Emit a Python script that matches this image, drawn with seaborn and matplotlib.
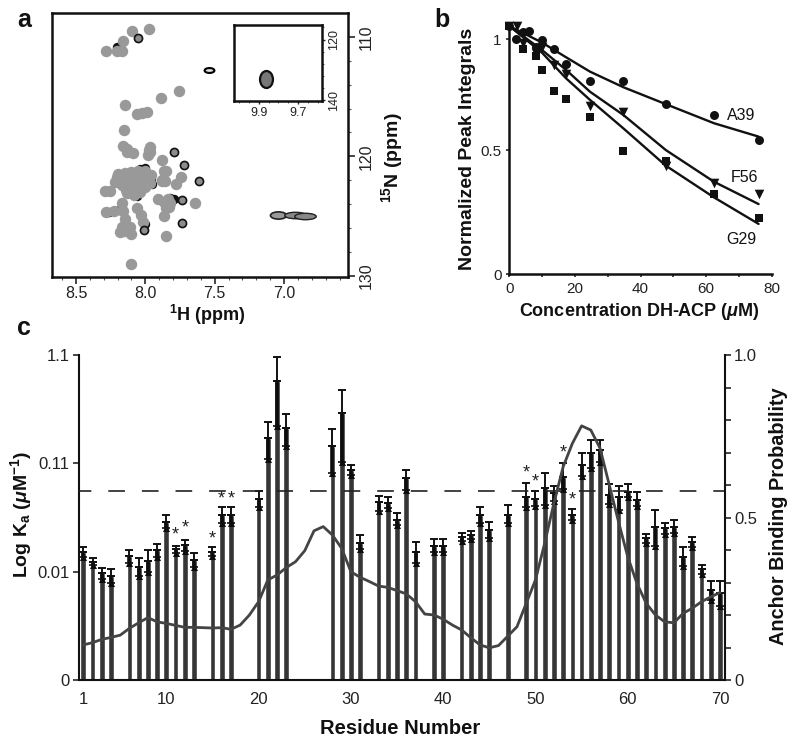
import matplotlib
matplotlib.use("Agg")
import matplotlib.pyplot as plt
import pandas as pd
import seaborn as sns
from matplotlib.path import Path
from matplotlib.transforms import Affine2D

W, H = 800, 745

# panel a, peak positions in ppm
gray_h = [7.971, 8.096, 8.163, 8.286, 8.204, 8.168, 7.760, 7.885, 8.147, 8.060, 8.024, 7.988, 8.151,
          8.132, 8.089, 7.964, 7.983, 7.882, 7.868, 7.880, 7.740, 7.776, 8.204, 8.216, 8.156, 8.096,
          8.036, 7.988, 8.132, 8.084, 8.036, 7.976, 8.180, 8.120, 8.060, 8.288, 8.252, 8.096, 7.911,
          7.868, 7.820, 7.832, 7.639, 8.168, 8.163, 8.281, 8.228, 8.060, 8.029, 8.019, 7.863, 8.144,
          8.108, 8.151, 8.103, 8.180, 7.851, 8.101, 7.850, 7.840,
          8.20, 8.15, 8.10, 8.05, 8.00, 7.96, 8.17, 8.12, 8.07, 8.02, 7.97, 8.14, 8.09, 8.04, 8.00,
          8.13, 8.08, 8.04, 7.88, 7.86, 7.85, 7.84, 8.16, 8.13, 8.17, 7.97, 7.975]
gray_n = [109.30, 109.53, 110.33, 111.17, 111.17, 111.17, 114.54, 115.15, 115.71, 116.46, 116.41, 116.27, 117.80,
          119.42, 119.75, 119.61, 119.89, 120.31, 121.20, 122.06, 121.75, 122.34, 121.70, 122.12, 121.84, 121.70,
          121.42, 121.84, 122.53, 122.81, 122.53, 122.12, 122.12, 122.12, 122.12, 122.87, 122.87, 123.09, 123.57,
          123.79, 123.93, 124.21, 123.93, 123.93, 124.54, 124.62, 124.54, 124.35, 124.90, 125.46, 124.99, 125.24,
          125.88, 126.21, 126.52, 126.30, 126.63, 129.00, 121.20, 123.60,
          121.50, 121.40, 121.30, 121.20, 121.20, 121.60, 122.40, 122.30, 122.30, 122.20, 122.20, 122.80, 122.90,
          122.80, 122.60, 123.10, 123.20, 123.00, 122.00, 122.10, 124.30, 124.00, 119.10, 119.60, 125.90, 119.20, 119.50]
dark_h = [8.053, 7.796, 7.719, 7.615, 7.736, 7.736, 8.012]
dark_n = [110.08, 119.61, 120.75, 122.09, 123.65, 125.54, 126.16]
edge_h = [8.003, 8.036, 7.950, 7.960, 7.820, 7.790, 8.260, 8.190, 8.204, 8.000, 8.060]
edge_n = [120.95, 121.05, 122.35, 121.90, 123.45, 123.55, 124.70, 124.45, 110.85, 125.65, 123.30]
oval_h = [7.543, 7.043, 6.920, 6.850]
oval_n = [112.79, 124.93, 124.93, 124.96]
inset_h = [9.866]
inset_n = [132.8]

# panel b
conc_a39 = [0, 2.0, 4.1, 6.0, 8.0, 10, 13.7, 17.3, 24.6, 34.8, 47.7, 62.4, 76]
a39 = [1.0, 0.946, 0.974, 0.981, 0.917, 0.944, 0.909, 0.845, 0.778, 0.778, 0.685, 0.642, 0.540]
conc_f56 = [0, 2.2, 4.1, 8.0, 10, 13.7, 17.3, 24.6, 34.8, 47.7, 62.4, 76]
f56 = [1.0, 1.0, 0.930, 0.890, 0.917, 0.843, 0.806, 0.677, 0.652, 0.437, 0.368, 0.323]
conc_g29 = [0, 4.1, 8.0, 10, 13.7, 17.3, 24.6, 34.8, 47.7, 62.4, 76]
g29 = [1.0, 0.907, 0.880, 0.821, 0.738, 0.706, 0.632, 0.497, 0.457, 0.321, 0.227]
conc_fit = [0, 10, 17.3, 24.6, 34.8, 47.7, 62.4, 76]
fit_a39 = [1.0, 0.933, 0.874, 0.816, 0.753, 0.685, 0.608, 0.554]
fit_f56 = [1.0, 0.903, 0.823, 0.735, 0.641, 0.500, 0.372, 0.282]
fit_g29 = [1.0, 0.892, 0.789, 0.702, 0.587, 0.437, 0.309, 0.202]

# panel c, heights are in axis positions (0, 0.01, 0.11, 1.1 are evenly spaced)
residues = [1, 2, 3, 4, 6, 7, 8, 9, 10, 11, 12, 13, 15, 16, 17, 20, 21, 22, 23, 28, 29, 30, 31, 33, 34, 35,
            36, 37, 39, 40, 42, 43, 44, 45, 47, 49, 50, 51, 52, 53, 54, 55, 56, 57, 58, 59, 60, 61, 62, 63,
            64, 65, 66, 67, 68, 69, 70]
ka = [1.182, 1.092, 0.985, 0.960, 1.142, 1.046, 1.098, 1.200, 1.462, 1.206, 1.243, 1.111, 1.185, 1.526, 1.526,
      1.671, 2.237, 2.763, 2.329, 2.160, 2.462, 1.938, 1.262, 1.646, 1.637, 1.477,
      1.862, 1.185, 1.237, 1.237, 1.323, 1.338, 1.523, 1.385, 1.523, 1.692, 1.668, 1.769, 1.723, 1.877, 1.523,
      1.985, 2.092, 2.123, 1.708, 1.692, 1.738, 1.662, 1.308, 1.415, 1.400, 1.415, 1.138, 1.277, 1.022, 0.831, 0.800]
ka_hi = [1.225, 1.123, 1.034, 1.022, 1.200, 1.129, 1.197, 1.258, 1.523, 1.240, 1.292, 1.175, 1.225, 1.600, 1.600,
         1.745, 2.378, 2.978, 2.455, 2.320, 2.677, 1.985, 1.338, 1.702, 1.692, 1.538,
         1.938, 1.277, 1.298, 1.302, 1.360, 1.378, 1.600, 1.462, 1.612, 1.818, 1.742, 1.908, 1.794, 2.006, 1.578,
         2.092, 2.215, 2.215, 1.809, 1.791, 1.812, 1.732, 1.351, 1.566, 1.452, 1.477, 1.231, 1.323, 1.062, 0.911, 0.914]
ka_lo = [1.138, 1.062, 0.935, 0.898, 1.083, 0.960, 1.000, 1.138, 1.400, 1.169, 1.194, 1.046, 1.145, 1.452, 1.452,
         1.600, 2.037, 2.345, 2.160, 1.908, 2.015, 1.892, 1.206, 1.563, 1.585, 1.431,
         1.754, 1.077, 1.178, 1.178, 1.283, 1.302, 1.446, 1.314, 1.446, 1.594, 1.609, 1.615, 1.652, 1.763, 1.477,
         1.883, 1.960, 2.009, 1.625, 1.569, 1.692, 1.606, 1.268, 1.240, 1.345, 1.360, 1.055, 1.231, 0.978, 0.738, 0.686]
star_res = [11, 12, 15, 16, 17, 49, 50, 53, 54]
star_y = [1.338, 1.400, 1.302, 1.668, 1.668, 1.908, 1.831, 2.098, 1.662]
threshold = 1.745
anchor_res = list(range(1, 71))
anchor = [0.108, 0.115, 0.125, 0.131, 0.138, 0.159, 0.176, 0.192, 0.179, 0.174, 0.168, 0.162, 0.162, 0.161,
          0.160, 0.161, 0.156, 0.169, 0.200, 0.241, 0.308, 0.323, 0.346, 0.364, 0.398, 0.459, 0.472, 0.446,
          0.405, 0.333, 0.316, 0.303, 0.289, 0.285, 0.275, 0.265, 0.241, 0.203, 0.200, 0.187, 0.169, 0.154,
          0.130, 0.108, 0.099, 0.106, 0.135, 0.164, 0.236, 0.308, 0.421, 0.544, 0.656, 0.728, 0.782, 0.769,
          0.713, 0.600, 0.487, 0.379, 0.297, 0.236, 0.200, 0.179, 0.176, 0.205, 0.221, 0.241, 0.256, 0.269]

sns.set_theme(style="ticks")
plt.rcParams["font.family"] = ["Liberation Sans", "DejaVu Sans"]
plt.rcParams["mathtext.fontset"] = "custom"
plt.rcParams["mathtext.rm"] = "Liberation Sans:bold"
plt.rcParams["mathtext.bf"] = "Liberation Sans:bold"
plt.rcParams["mathtext.it"] = "Liberation Sans:italic:bold"
plt.rcParams["lines.scale_dashes"] = False
plt.rcParams["text.color"] = "#1a1a1a"


def box(left, top, right, bottom):
    return [left / W, 1 - bottom / H, (right - left) / W, (bottom - top) / H]


def label(x, y, text, size=14, rotation=0, weight="bold"):
    fig.text(x / W, 1 - y / H, text, fontsize=size, rotation=rotation, weight=weight,
             ha="center", va="center", color="#111111")


def oval(sx, sy):
    return Path.unit_circle().transformed(Affine2D().scale(sx, sy))


fig = plt.figure(figsize=(W / 100, H / 100), dpi=100)

# a
ax = fig.add_axes(box(52, 13, 348, 277))
sns.scatterplot(x=edge_h, y=edge_n, color="#111111", s=46, linewidth=0, ax=ax, zorder=2)
sns.scatterplot(x=gray_h, y=gray_n, color="#999999", s=68, linewidth=0, ax=ax, zorder=3)
sns.scatterplot(x=dark_h, y=dark_n, color="#8c8c8c", edgecolor="#111111", s=34, linewidth=1.2, ax=ax, zorder=4)
sns.scatterplot(x=oval_h[:1], y=oval_n[:1], color="#dddddd", edgecolor="#000000", s=50, linewidth=1.5,
                marker=oval(1, 0.5), ax=ax, zorder=4)
sns.scatterplot(x=oval_h[1:2], y=oval_n[1:2], color="#999999", edgecolor="#222222", s=135, linewidth=1.2,
                marker=oval(1, 0.45), ax=ax, zorder=4)
sns.scatterplot(x=oval_h[2:], y=oval_n[2:], color="#888888", edgecolor="#222222", s=240, linewidth=1.0,
                marker=oval(1, 0.3), ax=ax, zorder=4)
ax.set_xlim(8.673, 6.539)
ax.set_ylim(130.1, 108.0)
ax.set_xticks([8.5, 8.0, 7.5, 7.0], ["8.5", "8.0", "7.5", "7.0"])
ax.set_xticks([8.6, 8.4, 8.3, 8.2, 8.1, 7.9, 7.8, 7.7, 7.6, 7.4, 7.3, 7.2, 7.1, 6.9, 6.8, 6.7, 6.6], minor=True)
ax.yaxis.tick_right()
ax.set_yticks([110, 120, 130], ["110", "120", "130"], rotation=90, va="center")
ax.set_yticks(list(range(112, 130, 2)), minor=True)
ax.tick_params(axis="both", which="major", labelsize=11.5, length=5, width=1.2, pad=3, labelcolor="#222222")
ax.tick_params(axis="x", which="major", pad=1.5)
ax.tick_params(axis="both", which="minor", length=2, width=0.8, color="#555555")
ax.grid(False)
for s in ax.spines.values():
    s.set_linewidth(1.8)
    s.set_color("#111111")

inset = fig.add_axes(box(234, 25, 322, 101))
sns.scatterplot(x=inset_h, y=inset_n, color="#777777", edgecolor="#111111", s=150, linewidth=1.6,
                marker=oval(0.76, 1), ax=inset)
inset.set_xlim(10.027, 9.578)
inset.set_ylim(140.2, 115.2)
inset.set_xticks([9.9, 9.7], ["9.9", "9.7"])
inset.set_xticks([10.0, 9.95, 9.85, 9.8, 9.75, 9.65, 9.6], minor=True)
inset.yaxis.tick_right()
inset.set_yticks([120, 140], ["120", "140"], rotation=90, va="center")
inset.set_yticks([116, 124, 128, 132, 136], minor=True)
inset.tick_params(axis="both", which="major", labelsize=9, length=2.5, width=1, pad=2, labelcolor="#222222")
inset.tick_params(axis="both", which="minor", length=1.5, width=0.7, color="#555555")
inset.grid(False)
for s in inset.spines.values():
    s.set_linewidth(1.8)
    s.set_color("#111111")

label(24, 20, "a", 18)
label(207, 315, r"$\mathregular{^{1}}$H (ppm)", 13)
label(392, 158, r"$\mathregular{^{15}}$N (ppm)", 14, rotation=90)

# b
bx = fig.add_axes(box(509.3, 26, 771.7, 274))
for fit in [fit_a39, fit_f56, fit_g29]:
    sns.lineplot(x=conc_fit, y=fit, color="#111111", linewidth=1.7, ax=bx, zorder=3, clip_on=False)
sns.scatterplot(x=conc_a39, y=a39, marker="o", color="#111111", s=42, linewidth=0, ax=bx, clip_on=False, zorder=4)
sns.scatterplot(x=conc_f56, y=f56, marker="v", color="#111111", s=48, linewidth=0, ax=bx, clip_on=False, zorder=4)
sns.scatterplot(x=conc_g29, y=g29, marker="s", color="#111111", s=40, linewidth=0, ax=bx, clip_on=False, zorder=4)
bx.set_xlim(0, 80)
bx.set_ylim(0, 1)
bx.set_xticks([0, 20, 40, 60, 80], ["0", "20", "40", "60", "80"])
bx.set_xticks([10, 30, 50, 70], minor=True)
bx.set_yticks([0, 0.5, 0.947], ["0", "0.5", "1"])
bx.tick_params(axis="both", which="major", labelsize=11, length=2.5, width=1.2, pad=3, labelcolor="#222222")
bx.tick_params(axis="x", which="minor", length=2.5, width=1.2)
bx.grid(False)
sns.despine(ax=bx)
for s in ["left", "bottom"]:
    bx.spines[s].set_linewidth(1.8)
    bx.spines[s].set_color("#111111")
for x_txt, y_txt, name in [(741, 116, "A39"), (745, 178, "F56"), (741, 239, "G29")]:
    label(x_txt, y_txt, name, 11.5, weight="normal")
label(442, 20, "b", 18)
label(467, 149, "Normalized Peak Integrals", 14, rotation=90)
label(639, 312, r"Concentration DH-ACP ($\mathit{\mu}$M)", 13)

# c
cx = fig.add_axes(box(79, 355, 725, 680))
bars = pd.DataFrame({"residue": residues, "ka": ka})
sns.barplot(data=bars, x="residue", y="ka", native_scale=True, color="#363636", saturation=1, width=0.62,
            errorbar=None, ax=cx, zorder=2)
cx.errorbar(residues, ka, yerr=[[k - l for k, l in zip(ka, ka_lo)], [0] * len(ka)],
            fmt="none", ecolor="#0d0d0d", elinewidth=2.6, capsize=2.8, capthick=1.2, zorder=3)
cx.errorbar(residues, ka, yerr=[[0] * len(ka), [h - k for h, k in zip(ka_hi, ka)]],
            fmt="none", ecolor="#111111", elinewidth=1.4, capsize=2.8, capthick=1.4, zorder=3)
sns.scatterplot(x=residues, y=ka_lo, marker="^", color="#0d0d0d", s=26, linewidth=0, ax=cx, zorder=3)
cx.axhline(threshold, color="#222222", linewidth=1.2, linestyle=(3.1, (12, 12.2)), zorder=4)
for r, y in zip(star_res, star_y):
    cx.text(r, y, "*", ha="center", va="center", fontsize=13, color="#222222", zorder=5)
cx.set_xlim(0.534, 70.54)
cx.set_ylim(0, 3)
cx.set_xticks([1, 10, 20, 30, 40, 50, 60, 70], ["1", "10", "20", "30", "40", "50", "60", "70"])
cx.set_yticks([0, 1, 2, 3], ["0", "0.01", "0.11", "1.1"])
cx.set_xlabel("")
cx.set_ylabel("")
cx.tick_params(axis="x", length=0, labelsize=12, pad=9, labelcolor="#222222")
cx.tick_params(axis="y", length=4, width=1.2, labelsize=12, pad=3, labelcolor="#222222")
cx.grid(False)
for s in ["top", "right"]:
    cx.spines[s].set_visible(False)
for s in ["left", "bottom"]:
    cx.spines[s].set_linewidth(1.5)
    cx.spines[s].set_color("#111111")

rx = cx.twinx()
sns.lineplot(x=anchor_res, y=anchor, color="#444444", linewidth=2.0, ax=rx, zorder=5)
rx.set_ylim(0, 1)
rx.set_yticks([0, 0.5, 1.0], ["0", "0.5", "1.0"])
rx.set_yticks([0.1, 0.2, 0.3, 0.4, 0.6, 0.7, 0.8, 0.9], minor=True)
rx.tick_params(axis="y", which="both", length=4.5, width=1.2, labelsize=12, pad=2, labelcolor="#222222")
rx.set_ylabel("")
rx.grid(False)
for s in ["top", "left", "bottom"]:
    rx.spines[s].set_visible(False)
rx.spines["right"].set_linewidth(1.5)
rx.spines["right"].set_color("#111111")

label(24, 328, "c", 18)
label(400, 728, "Residue Number", 14.5)
label(21, 514, r"Log K$_{\mathregular{a}}$ ($\mathit{\mu}$M$^{\mathregular{-1}}$)", 14, rotation=90)
label(778, 516, "Anchor Binding Probability", 14.3, rotation=90)

fig.savefig("out.png", dpi=100)
